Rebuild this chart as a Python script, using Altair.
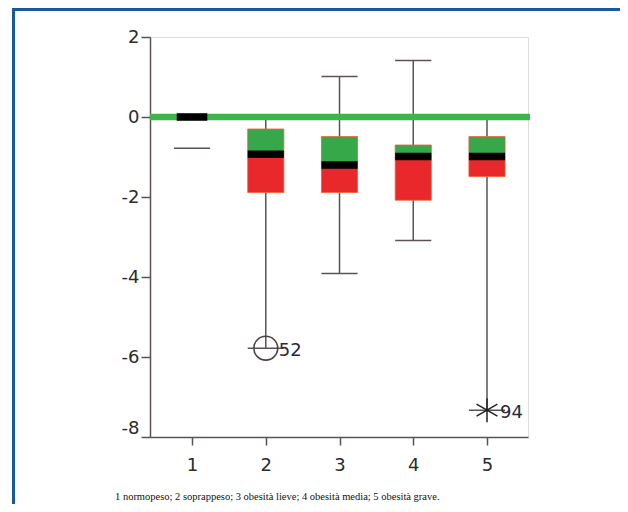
import altair as alt
import pandas as pd

# ---- data ----
groups = [1, 2, 3, 4, 5]
q3 = [0.0, -0.30, -0.49, -0.70, -0.49]
median = [0.0, -0.93, -1.20, -0.99, -0.99]
q1 = [0.0, -1.89, -1.89, -2.08, -1.49]
whisker_hi = [0.0, 0.0, 1.01, 1.41, 0.0]
whisker_lo = [-0.78, -5.78, -3.91, -3.09, -7.33]
outlier_group = [2, 5]
outlier_value = [-5.78, -7.33]
outlier_label = ["52", "94"]
outlier_kind = ["circle", "asterisk"]
reference_value = [0]
y_ticks = [2, 0, -2, -4, -6, -8]
x_ticks = [1, 2, 3, 4, 5]
footnote = ["1 normopeso; 2 soprappeso; 3 obesità lieve; 4 obesità media; 5 obesità grave."]

W, H = 378, 400
AX = "#5b5253"
GREEN = "#36a84a"
RED = "#e8282a"
LINE_GREEN = "#3db54a"
BLUE = "#17599c"

df = pd.DataFrame({"group": groups, "q3": q3, "median": median, "q1": q1,
                   "hi": whisker_hi, "lo": whisker_lo})
df_out = pd.DataFrame({"group": outlier_group, "value": outlier_value,
                       "label": outlier_label, "kind": outlier_kind})
df_ref = pd.DataFrame({"value": reference_value})
df_note = pd.DataFrame({"text": footnote})
df_one = pd.DataFrame({"a": [0]})

xs = alt.Scale(domain=[0.43, 5.556], nice=False, zero=False)
ys = alt.Scale(domain=[-8, 2], nice=False, zero=False)

xaxis = alt.Axis(values=x_ticks, format="d", title=None, grid=False, labelFlush=False,
                 domainColor=AX, domainWidth=1.5, tickColor=AX, tickWidth=1.5, tickSize=8,
                 labelFont="DejaVu Sans", labelFontSize=18, labelColor="#2b2b2b",
                 labelPadding=11)
yaxis = alt.Axis(values=y_ticks, labelExpr="'' + datum.value", title=None, grid=False,
                 domainColor=AX, domainWidth=1.5, tickColor=AX, tickWidth=1.5, tickSize=9,
                 labelFont="DejaVu Sans", labelFontSize=18, labelColor="#2b2b2b",
                 labelPadding=2, labelFlush=False,
                 labelOffset={"condition": {"test": "datum.value === -8", "value": -9}, "value": 0})

base = alt.Chart(df).transform_calculate(
    xl="datum.group - 0.245", xr="datum.group + 0.245",
    ml="datum.group - (datum.group == 1 ? 0.207 : 0.245)",
    mr="datum.group + (datum.group == 1 ? 0.207 : 0.245)",
)

X = lambda f: alt.X(f, type="quantitative", scale=xs, axis=xaxis)
Y = lambda f: alt.Y(f, type="quantitative", scale=ys, axis=yaxis)

upper_stem = base.mark_rule(color=AX, strokeWidth=1.5).encode(
    x=X("group"), y=Y("q3"), y2="hi")
lower_stem = base.transform_filter("datum.group != 1").mark_rule(color=AX, strokeWidth=1.5).encode(
    x=X("group"), y=Y("q1"), y2="lo")
cap_hi = base.transform_filter("datum.hi > datum.q3").mark_rule(color=AX, strokeWidth=1.5).encode(
    x=X("xl"), x2="xr", y=Y("hi"))
cap_lo = base.mark_rule(color=AX, strokeWidth=1.5).encode(
    x=X("xl"), x2="xr", y=Y("lo"))
box_up = base.mark_rect(color=GREEN, stroke="#e8603a", strokeWidth=0.8).encode(
    x=X("xl"), x2="xr", y=Y("q3"), y2="median")
box_dn = base.mark_rect(color=RED, stroke="#f0602a", strokeWidth=0.8).encode(
    x=X("xl"), x2="xr", y=Y("median"), y2="q1")
zero_line = alt.Chart(df_ref).mark_rule(color=LINE_GREEN, strokeWidth=6.5).encode(
    y=Y("value"), x=alt.value(0), x2=alt.value(W + 2))
med = base.mark_rule(color="black", strokeWidth=7.5).encode(
    x=X("ml"), x2="mr", y=Y("median"))

circ = alt.Chart(df_out).transform_filter("datum.kind == 'circle'").mark_point(
    shape="circle", size=570, filled=False, stroke="#4a4244", strokeWidth=1.6, opacity=1).encode(
    x=X("group"), y=Y("value"))
star = alt.Chart(df_out).transform_filter("datum.kind == 'asterisk'").mark_point(
    shape="M0,-1L0,1M-0.87,-0.5L0.87,0.5M-0.87,0.5L0.87,-0.5", size=576, filled=False,
    stroke="#222222", strokeWidth=1.5, opacity=1).encode(
    x=X("group"), y=Y("value"))
out_lbl = alt.Chart(df_out).mark_text(
    align="left", baseline="middle", dx=13, dy=3, font="DejaVu Sans", fontSize=18,
    color="#2a2a3a").encode(x=X("group"), y=Y("value"), text="label:N")

note = alt.Chart(df_note).mark_text(
    align="left", baseline="alphabetic", font="Liberation Serif", fontSize=10.5,
    color="#111111").encode(x=alt.value(-35), y=alt.value(463), text="text:N")

frame_left = alt.Chart(df_one).mark_rule(color=BLUE, strokeWidth=3).encode(
    x=alt.value(-136.5), y=alt.value(-27.5), y2=alt.value(470))
frame_top = alt.Chart(df_one).mark_rule(color=BLUE, strokeWidth=3).encode(
    y=alt.value(-27.5), x=alt.value(-138), x2=alt.value(470))

chart = alt.layer(
    upper_stem, lower_stem, cap_hi, cap_lo, box_up, box_dn, zero_line, med,
    circ, star, out_lbl, note, frame_left, frame_top
).properties(
    width=W, height=H,
    autosize=alt.AutoSizeParams(type="none"),
    padding={"left": 142, "top": 29, "right": 92, "bottom": 67},
).configure_view(stroke=AX, strokeWidth=1.5).configure(background="white")

chart.save("out.html", embed_options={"renderer": "svg", "actions": False})
